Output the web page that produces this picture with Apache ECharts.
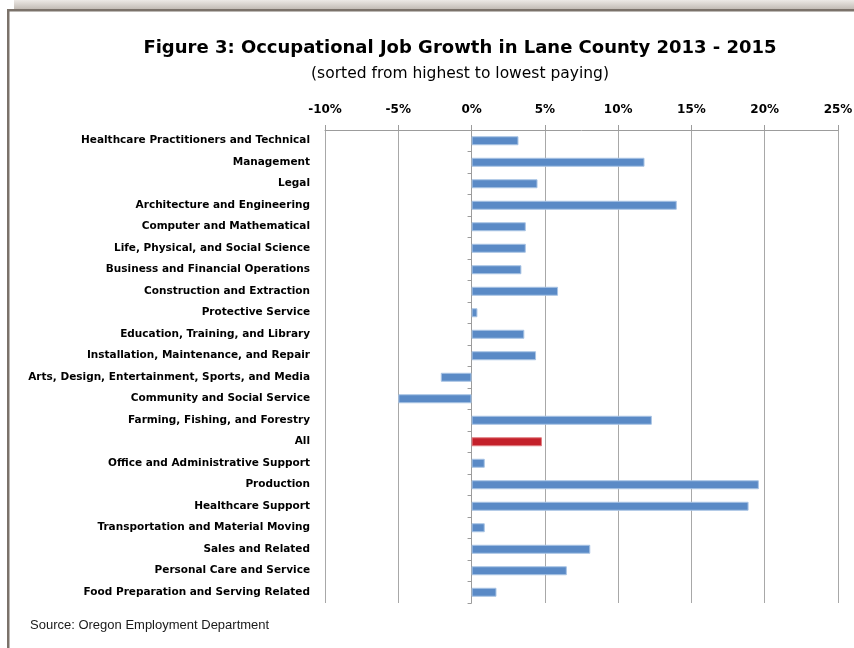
<!DOCTYPE html>
<html>
<head>
<meta charset="utf-8">
<style>
  html, body { margin: 0; padding: 0; background: #ffffff; }
  #chart { width: 854px; height: 648px; }
</style>
<script src="https://cdn.jsdelivr.net/npm/echarts@6/dist/echarts.min.js"></script>
</head>
<body>
<div id="chart"></div>
<script>
// Occupation groups, sorted from highest to lowest paying
const occupations = [
  'Healthcare Practitioners and Technical',
  'Management',
  'Legal',
  'Architecture and Engineering',
  'Computer and Mathematical',
  'Life, Physical, and Social Science',
  'Business and Financial Operations',
  'Construction and Extraction',
  'Protective Service',
  'Education, Training, and Library',
  'Installation, Maintenance, and Repair',
  'Arts, Design, Entertainment, Sports, and Media',
  'Community and Social Service',
  'Farming, Fishing, and Forestry',
  'All',
  'Office and Administrative Support',
  'Production',
  'Healthcare Support',
  'Transportation and Material Moving',
  'Sales and Related',
  'Personal Care and Service',
  'Food Preparation and Serving Related'
];

// Job growth 2013 - 2015, percent
const growthPct = [
  3.2, 11.8, 4.5, 14.0, 3.7, 3.7, 3.4, 5.9, 0.4, 3.6, 4.4,
  -2.1, -5.0, 12.3, 4.8, 0.9, 19.6, 18.9, 0.9, 8.1, 6.5, 1.7
];

// Percent axis ticks
const axisMin = -10;
const axisMax = 25;
const axisStep = 5;

const totalLabel = 'All';

const WIDE = '"DejaVu Sans", Verdana, sans-serif';
const NARROW = '"Liberation Sans", Arial, sans-serif';

const chart = echarts.init(document.getElementById('chart'), null, { renderer: 'canvas' });

const barData = growthPct.map((v, i) => {
  const isTotal = occupations[i] === totalLabel;
  return {
    value: v,
    itemStyle: isTotal
      ? { color: '#c4202a', borderColor: '#e07d80', borderWidth: 1 }
      : { color: '#5a8ac6', borderColor: '#a9c4e4', borderWidth: 1 }
  };
});

chart.setOption({
  backgroundColor: '#ffffff',
  animation: false,
  graphic: [
    // soft shadow above the frame
    {
      type: 'rect',
      shape: { x: 14, y: 0, width: 840, height: 9 },
      style: {
        fill: new echarts.graphic.LinearGradient(0, 0, 0, 1, [
          { offset: 0, color: '#ede9e5' },
          { offset: 1, color: '#c3bcb5' }
        ])
      },
      silent: true
    },
    // frame: top edge
    {
      type: 'rect',
      shape: { x: 7, y: 9, width: 847, height: 2.5 },
      style: { fill: '#7b726a' },
      silent: true
    },
    // frame: left edge
    {
      type: 'rect',
      shape: { x: 7, y: 9, width: 2.5, height: 639 },
      style: { fill: '#7b726a' },
      silent: true
    },
    {
      type: 'text',
      left: 30,
      top: 619,
      style: {
        text: 'Source: Oregon Employment Department',
        font: '13px ' + NARROW,
        fill: '#1a1a1a'
      }
    }
  ],
  title: {
    text: 'Figure 3: Occupational Job Growth in Lane County 2013 - 2015',
    subtext: '(sorted from highest to lowest paying)',
    left: 455,
    textAlign: 'center',
    top: 34,
    itemGap: 9,
    textStyle: {
      fontFamily: WIDE,
      fontSize: 18,
      fontWeight: 'bold',
      color: '#000000'
    },
    subtextStyle: {
      fontFamily: WIDE,
      fontSize: 15.5,
      color: '#000000'
    }
  },
  grid: {
    left: 325,
    right: 16,
    top: 130,
    bottom: 45,
    containLabel: false,
    outerBoundsMode: 'none'
  },
  xAxis: {
    type: 'value',
    position: 'top',
    min: axisMin,
    max: axisMax,
    interval: axisStep,
    axisLine: { show: true, lineStyle: { color: '#9c9c9c', width: 1 } },
    axisTick: { show: true, inside: false, length: 5, lineStyle: { color: '#9c9c9c' } },
    axisLabel: {
      formatter: '{value}%',
      fontFamily: WIDE,
      fontSize: 12,
      fontWeight: 'bold',
      color: '#000000',
      margin: 14
    },
    splitLine: { show: true, lineStyle: { color: '#a8a8a8', width: 1 } }
  },
  yAxis: [
    {
      // category names along the left edge of the plot
      type: 'category',
      data: occupations,
      inverse: true,
      position: 'left',
      axisLine: { show: false, onZero: false },
      axisTick: { show: false },
      axisLabel: {
        fontFamily: WIDE,
        fontSize: 10.5,
        fontWeight: 'bold',
        color: '#000000',
        margin: 15
      },
      splitLine: { show: false }
    },
    {
      // axis line drawn at 0%
      type: 'category',
      data: occupations,
      inverse: true,
      position: 'left',
      axisLine: { show: true, onZero: true, lineStyle: { color: '#9c9c9c', width: 1 } },
      axisTick: { show: true, length: 4, alignWithLabel: false, lineStyle: { color: '#9c9c9c' } },
      axisLabel: { show: false },
      splitLine: { show: false }
    }
  ],
  series: [
    {
      type: 'bar',
      yAxisIndex: 0,
      data: barData,
      barWidth: 9
    }
  ]
});
</script>
</body>
</html>
